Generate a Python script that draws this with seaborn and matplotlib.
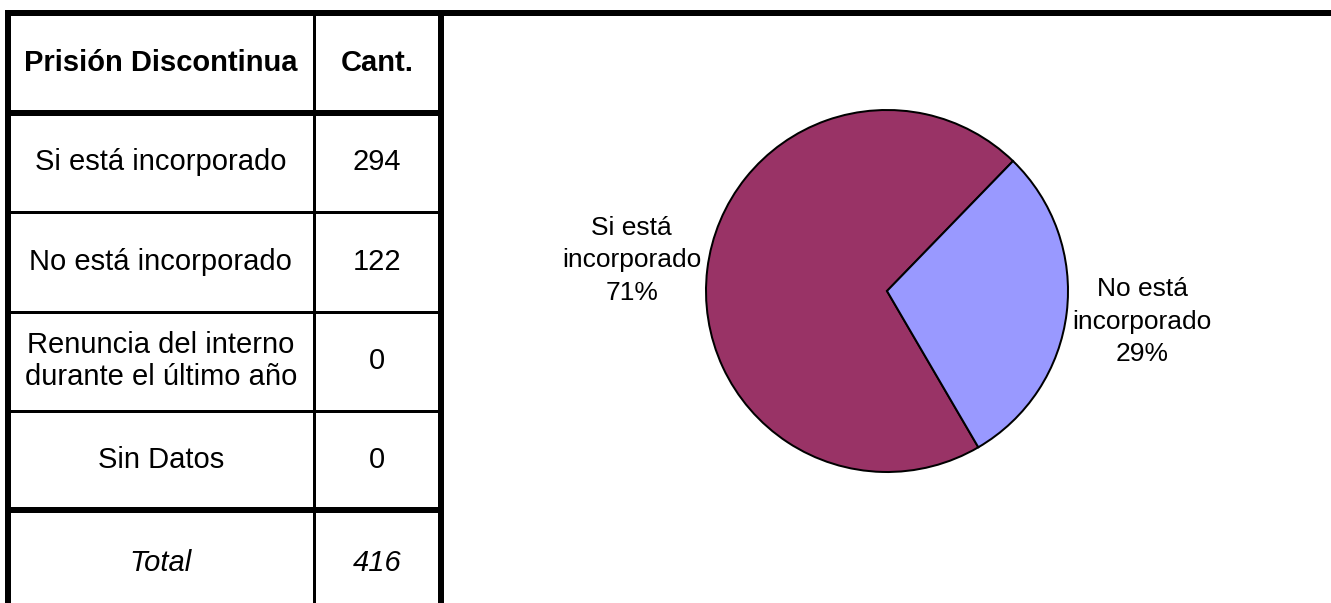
import matplotlib
matplotlib.use("Agg")
import matplotlib.pyplot as plt
import seaborn as sns

# Data
header = ["Prisión Discontinua", "Cant."]
categories = ["Si está incorporado", "No está incorporado",
              "Renuncia del interno\ndurante el último año", "Sin Datos"]
counts = [294, 122, 0, 0]
total_label = "Total"
total_value = 416

pie_labels = ["Si está\nincorporado", "No está\nincorporado"]
pie_values = [294, 122]
pie_colors = ["#993366", "#9999FF"]

sns.set_theme(style="white")
plt.rcParams["font.family"] = ["Liberation Sans", "DejaVu Sans"]
plt.rcParams["text.color"] = "black"

W, H, DPI = 1331, 603, 100
fig = plt.figure(figsize=(W / DPI, H / DPI), dpi=DPI)
fig.patch.set_facecolor("white")

# Table drawn on a full-figure canvas in pixel units
ax_t = fig.add_axes([0, 0, 1, 1])
ax_t.set_xlim(0, W)
ax_t.set_ylim(H, 0)
ax_t.axis("off")

px = 72 / DPI  # points per pixel
thick, thin = 6 * px, 3 * px

x_left, x_mid, x_right = 8, 313.5, 441
row_edges = [13, 113, 211.5, 311.5, 410.5, 510, H]

# outer frame and separators
ax_t.plot([5, W], [13, 13], color="black", lw=thick, solid_capstyle="butt")
ax_t.plot([x_left, x_left], [10, H], color="black", lw=thick, solid_capstyle="butt")
ax_t.plot([x_right, x_right], [10, H], color="black", lw=thick, solid_capstyle="butt")
ax_t.plot([x_mid, x_mid], [13, H], color="black", lw=thin, solid_capstyle="butt")
for i, y in enumerate(row_edges[1:-1]):
    lw = thick if i in (0, 4) else thin
    ax_t.plot([x_left, x_right], [y, y], color="black", lw=lw, solid_capstyle="butt")

col_c = [(x_left + x_mid) / 2, (x_mid + x_right) / 2]
fs = 21

def row_center(i):
    return (row_edges[i] + row_edges[i + 1]) / 2

ax_t.text(col_c[0], row_center(0), header[0], ha="center", va="center",
          fontsize=fs, fontweight="bold", color="black")
ax_t.text(col_c[1], row_center(0), header[1], ha="center", va="center",
          fontsize=fs, fontweight="bold", color="black")
for i, (cat, n) in enumerate(zip(categories, counts), start=1):
    ax_t.text(col_c[0], row_center(i), cat, ha="center", va="center",
              fontsize=fs, linespacing=1.2, color="black")
    ax_t.text(col_c[1], row_center(i), str(n), ha="center", va="center",
              fontsize=fs, color="black")
ty = row_edges[5] + 53
ax_t.text(col_c[0], ty, total_label, ha="center", va="center", fontsize=fs,
          style="italic", color="black")
ax_t.text(col_c[1], ty, str(total_value), ha="center", va="center", fontsize=fs,
          style="italic", color="black")

# Pie chart
cx, cy, r = 887, 291, 181
ax_p = fig.add_axes([(cx - r) / W, (H - cy - r) / H, 2 * r / W, 2 * r / H])
tot = sum(pie_values)
labels = [f"{lab}\n{round(v / tot * 100)}%" for lab, v in zip(pie_labels, pie_values)]
wedges, texts = ax_p.pie(
    pie_values, labels=labels, colors=pie_colors, startangle=-59.7,
    counterclock=False, labeldistance=1.42,
    wedgeprops=dict(edgecolor="black", linewidth=2 * px),
    textprops=dict(fontsize=19, color="black"),
)
for t in texts:
    t.set_ha("center")
    t.set_va("center")
    t.set_linespacing(1.45)
ax_p.set_xlim(-1, 1)
ax_p.set_ylim(-1, 1)
ax_p.set_aspect("equal")

fig.savefig("out.png", dpi=DPI, facecolor="white")
